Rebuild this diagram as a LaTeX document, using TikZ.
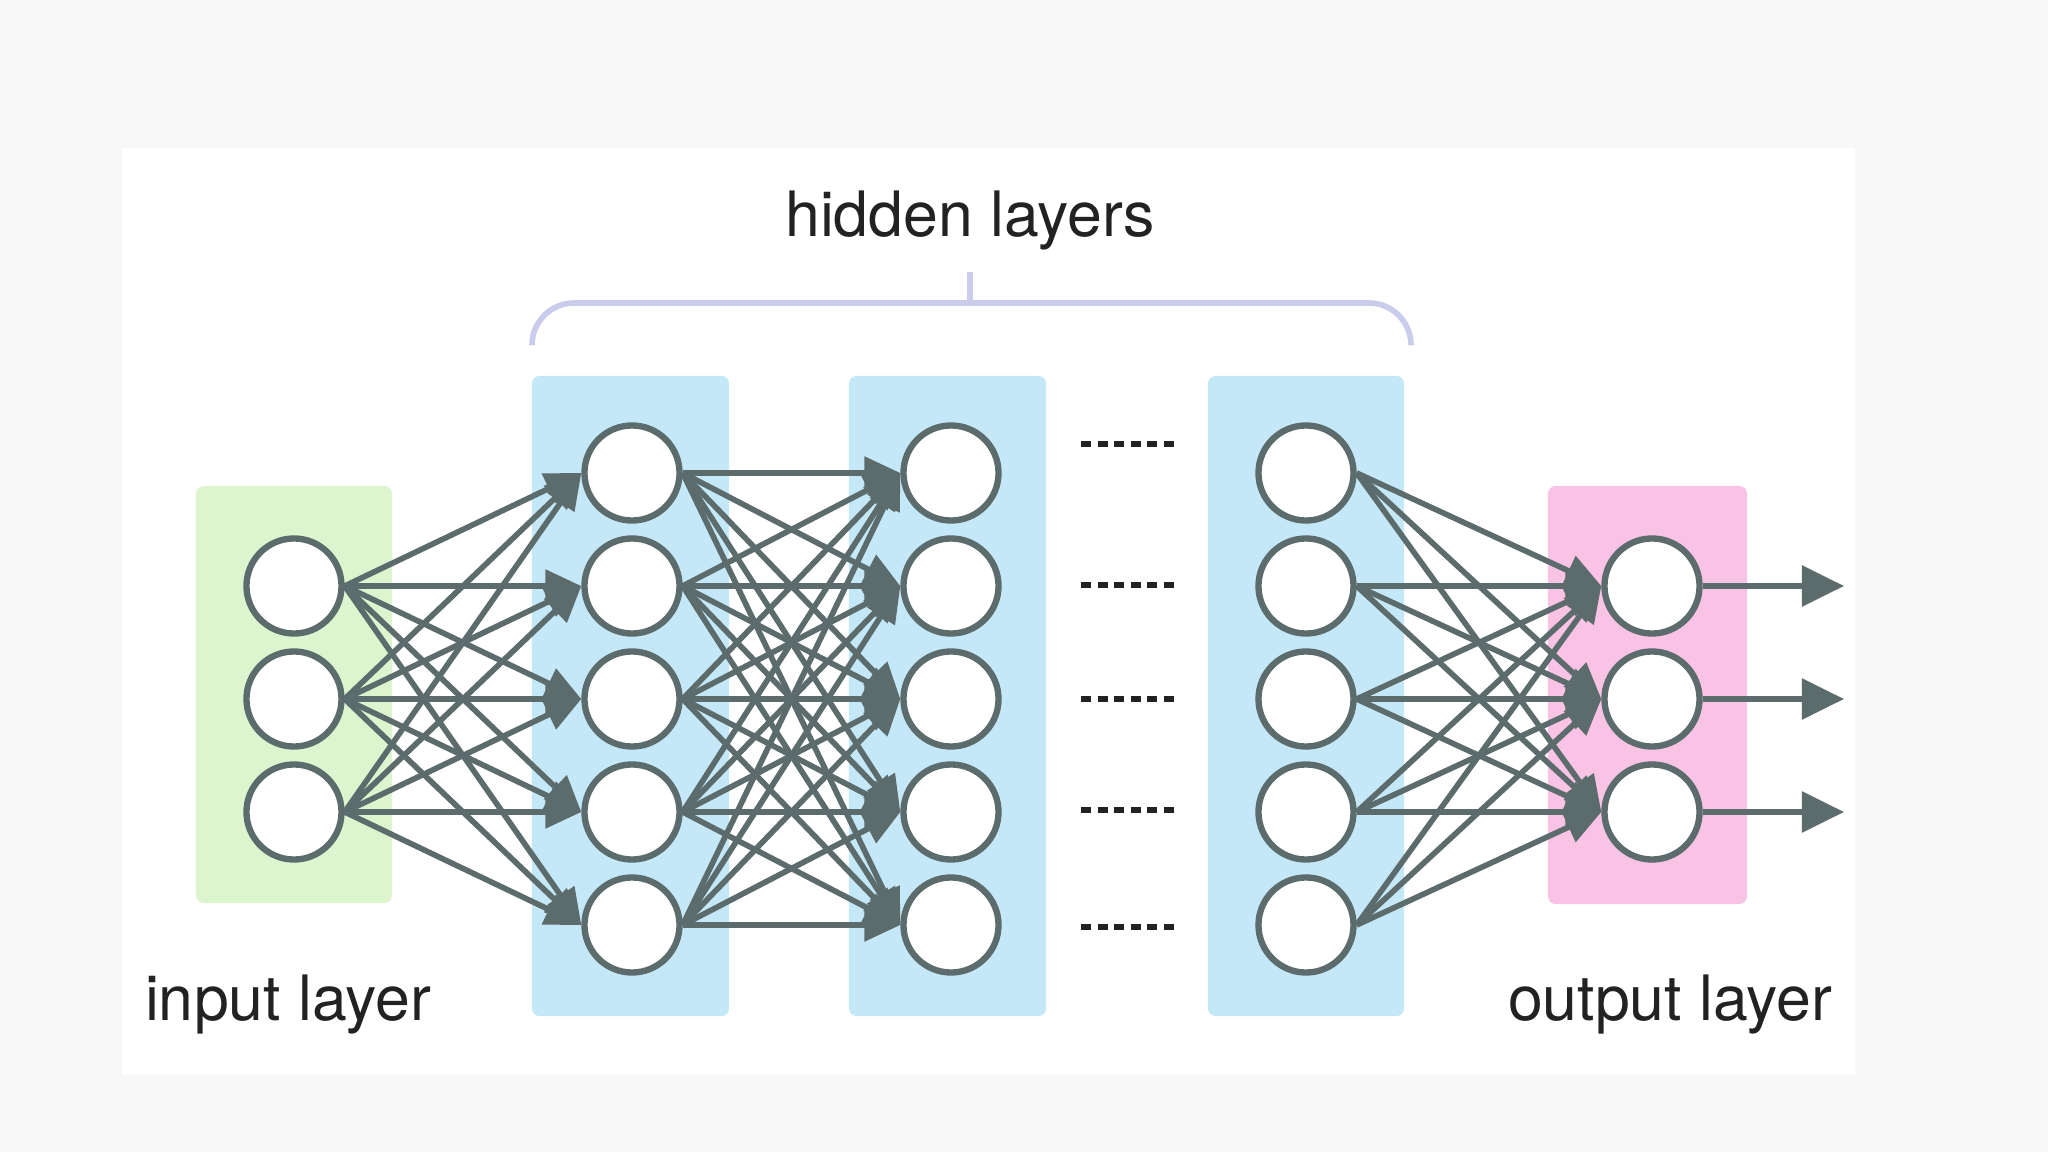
\documentclass[tikz,border=0pt]{standalone}
\usepackage{fontspec}
\setmainfont{TeX Gyre Heros}
\usetikzlibrary{arrows.meta}
\definecolor{bgc}{HTML}{F8F8F8}
\definecolor{greenc}{HTML}{DDF5CE}
\definecolor{bluec}{HTML}{C4E8F7}
\definecolor{pinkc}{HTML}{F8C3E5}
\definecolor{edgec}{HTML}{5C6B6C}
\definecolor{bracketc}{HTML}{C9CCEA}
\definecolor{textc}{HTML}{222222}
\tikzset{
  layerbox/.style={rectangle, rounded corners=0.08cm, draw=none, inner sep=0pt},
  neuron/.style={circle, draw=edgec, line width=1.8pt, fill=white, minimum size=0.95cm, inner sep=0pt},
  conn/.style={draw=edgec, line width=1.6pt, -{Triangle[length=0.36cm,width=0.32cm]}},
  outconn/.style={draw=edgec, line width=1.6pt, -{Triangle[length=0.42cm,width=0.40cm]}},
  dotline/.style={draw=textc, line width=1.5pt, dash pattern=on 2.9pt off 1.8pt},
  lbl/.style={text=textc, font=\fontsize{17.8}{21}\selectfont, inner sep=0pt},
  bracket/.style={draw=bracketc, line width=1.6pt}
}
\begin{document}
\begin{tikzpicture}[x=0.01cm,y=-0.01cm]
\useasboundingbox (0,0) rectangle (2048,1152);
\fill[bgc] (0,0) rectangle (2048,1152);
\fill[white] (122,148) rectangle (1855,1075);
% layer boxes
\node[layerbox, fill=greenc, minimum width=1.96cm, minimum height=4.17cm] (inbox) at (294,694.5) {};
\node[layerbox, fill=bluec, minimum width=1.97cm, minimum height=6.40cm] (hboxa) at (630.5,696) {};
\node[layerbox, fill=bluec, minimum width=1.97cm, minimum height=6.40cm] (hboxb) at (947.5,696) {};
\node[layerbox, fill=bluec, minimum width=1.96cm, minimum height=6.40cm] (hboxc) at (1306,696) {};
\node[layerbox, fill=pinkc, minimum width=1.99cm, minimum height=4.18cm] (outbox) at (1647.5,695) {};
% bracket
\coordinate (brl) at (532,345);
\coordinate (brr) at (1411,345);
\coordinate (brm) at (970,303);
\draw[bracket, rounded corners=0.42cm] (brl) -- (532,303) -- (1411,303) -- (brr);
\node[lbl] (hl) at (970,221) {hidden layers};
\draw[bracket] (brm) -- (970,272);
% neurons
\foreach \i/\y in {1/586,2/699,3/812} {
  \node[neuron] (i\i) at (294,\y) {};
  \node[neuron] (o\i) at (1652,\y) {};
  \coordinate (out\i) at (1844,\y);
}
\foreach \i/\y in {1/473,2/586,3/699,4/812,5/925} {
  \node[neuron] (a\i) at (632,\y) {};
  \node[neuron] (b\i) at (951,\y) {};
  \node[neuron] (c\i) at (1306,\y) {};
}
% connections
\foreach \s in {1,2,3} \foreach \t in {1,...,5}
  \draw[conn] (i\s.east) -- (a\t.west);
\foreach \s in {1,...,5} \foreach \t in {1,...,5}
  \draw[conn] (a\s.east) -- (b\t.west);
\foreach \s in {1,...,5} \foreach \t in {1,2,3}
  \draw[conn] (c\s.east) -- (o\t.west);
\foreach \i in {1,2,3}
  \draw[outconn] (o\i.east) -- (out\i);
% dots
\foreach \y in {444,585,699,810,927}
  \draw[dotline] (1081,\y) -- (1176,\y);
% labels
\node[lbl] (il) at (288,1005) {input layer};
\node[lbl] (ol) at (1670,1005) {output layer};
\end{tikzpicture}
\end{document}
